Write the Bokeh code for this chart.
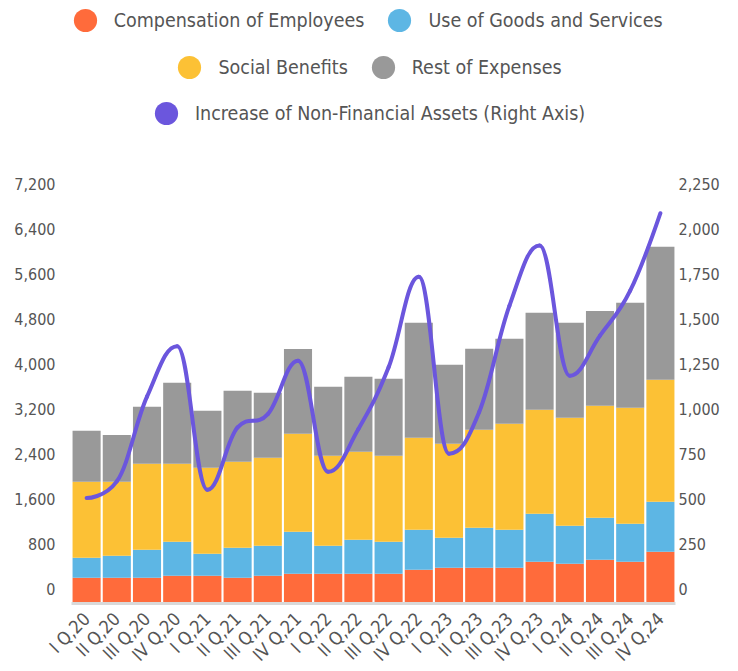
from math import pi
from bokeh.plotting import figure
from bokeh.models import (ColumnDataSource, Range1d, LinearAxis, FixedTicker,
                          NumeralTickFormatter, Legend, LegendItem)
from bokeh.embed import file_html
from bokeh.resources import INLINE

quarters = ["I Q,20", "II Q,20", "III Q,20", "IV Q,20",
            "I Q,21", "II Q,21", "III Q,21", "IV Q,21",
            "I Q,22", "II Q,22", "III Q,22", "IV Q,22",
            "I Q,23", "II Q,23", "III Q,23", "IV Q,23",
            "I Q,24", "II Q,24", "III Q,24", "IV Q,24"]
compensation = [457, 457, 457, 493, 493, 457, 493, 528, 528, 528,
                528, 600, 635, 635, 635, 742, 706, 777, 742, 920]
goods_services = [356, 391, 498, 605, 391, 534, 534, 747, 498, 605,
                  569, 712, 534, 712, 676, 854, 676, 747, 676, 890]
social_benefits = [1352, 1316, 1530, 1388, 1530, 1530, 1566, 1743, 1601, 1566,
                   1530, 1637, 1672, 1743, 1886, 1850, 1921, 1992, 2064, 2170]
rest_expenses = [907, 836, 1014, 1441, 1014, 1263, 1156, 1512, 1228, 1334,
                 1370, 2046, 1405, 1441, 1512, 1726, 1690, 1690, 1868, 2366]
non_financial = [586, 679, 1150, 1430, 632, 979, 1053, 1350, 732, 970,
                 1313, 1817, 833, 1065, 1655, 1990, 1266, 1489, 1739, 2170]
left_ticks = [0, 800, 1600, 2400, 3200, 4000, 4800, 5600, 6400, 7200]
right_ticks = [0, 250, 500, 750, 1000, 1250, 1500, 1750, 2000, 2250]

series_names = ["Compensation of Employees", "Use of Goods and Services",
                "Social Benefits", "Rest of Expenses"]
line_name = "Increase of Non-Financial Assets (Right Axis)"
colors = ["#ff6b3b", "#5db6e4", "#fcc135", "#999999"]
line_color = "#6b56dd"
FONT = "'Liberation Sans Narrow', 'DejaVu Sans Condensed', 'Roboto', sans-serif"
TXT = "#555555"

UNITS_PER_PX = 7200 / 404.7
FRAME_H = 603
LEFT_MAX = FRAME_H * UNITS_PER_PX
RATIO = 2250 / 7200
RIGHT_MAX = LEFT_MAX * RATIO
off_left = 14.5 * UNITS_PER_PX
off_right = off_left * RATIO

source = ColumnDataSource(dict(q=quarters, comp=compensation, goods=goods_services,
                               social=social_benefits, rest=rest_expenses))

p = figure(x_range=quarters, y_range=Range1d(0, LEFT_MAX),
           frame_width=604, frame_height=FRAME_H,
           min_border_left=71, min_border_right=55, min_border_top=0, min_border_bottom=62,
           y_axis_location=None, toolbar_location=None, output_backend="svg")
p.extra_y_ranges = {
    "right": Range1d(0, RIGHT_MAX),
    "lblL": Range1d(-off_left, LEFT_MAX - off_left),
    "lblR": Range1d(-off_right, RIGHT_MAX - off_right),
}
p.outline_line_color = None
p.grid.grid_line_color = None
p.background_fill_color = "white"
p.border_fill_color = "white"

p.vbar_stack(["comp", "goods", "social", "rest"], x="q", width=0.93,
             fill_color=colors, line_color=None, source=source)

# smooth spline (Highcharts-like) through the series points
n = len(non_financial)
xs = [i + 0.5 for i in range(n)]
ys = non_financial
sm = 1.5
den = sm + 1
lc = [None] * n
rc = [None] * n
for i in range(n):
    x, y = xs[i], ys[i]
    if 0 < i < n - 1:
        lx, ly = xs[i - 1], ys[i - 1]
        nx, ny = xs[i + 1], ys[i + 1]
        lcx = (sm * x + lx) / den
        lcy = (sm * y + ly) / den
        rcx = (sm * x + nx) / den
        rcy = (sm * y + ny) / den
        corr = ((rcy - lcy) * (rcx - x)) / (rcx - lcx) + y - rcy
        lcy += corr
        rcy += corr
        if lcy > ly and lcy > y:
            lcy = max(ly, y); rcy = 2 * y - lcy
        elif lcy < ly and lcy < y:
            lcy = min(ly, y); rcy = 2 * y - lcy
        if rcy > ny and rcy > y:
            rcy = max(ny, y); lcy = 2 * y - rcy
        elif rcy < ny and rcy < y:
            rcy = min(ny, y); lcy = 2 * y - rcy
        lc[i] = (lcx, lcy)
        rc[i] = (rcx, rcy)
    else:
        lc[i] = (x, y)
        rc[i] = (x, y)

bez = ColumnDataSource(dict(
    x0=xs[:-1], y0=ys[:-1], x1=xs[1:], y1=ys[1:],
    cx0=[rc[i][0] for i in range(n - 1)], cy0=[rc[i][1] for i in range(n - 1)],
    cx1=[lc[i][0] for i in range(1, n)], cy1=[lc[i][1] for i in range(1, n)],
))
p.bezier(x0="x0", y0="y0", x1="x1", y1="y1", cx0="cx0", cy0="cy0", cx1="cx1", cy1="cy1",
         source=bez, y_range_name="right", line_color=line_color, line_width=4,
         line_cap="round")

# axes
xa = p.xaxis[0]
xa.major_label_orientation = pi / 4
xa.major_label_text_font = FONT
xa.major_label_text_font_size = "18px"
xa.major_label_text_color = TXT
xa.axis_line_color = "#d9d9d9"
xa.axis_line_width = 3
xa.major_tick_line_color = None
xa.minor_tick_line_color = None
xa.major_label_standoff = 6

axL = LinearAxis(y_range_name="lblL", ticker=FixedTicker(ticks=left_ticks),
                 formatter=NumeralTickFormatter(format="0,0"))
axR = LinearAxis(y_range_name="lblR", ticker=FixedTicker(ticks=right_ticks),
                 formatter=NumeralTickFormatter(format="0,0"))
for ax, so in ((axL, 16), (axR, 3)):
    ax.axis_line_color = None
    ax.major_tick_line_color = None
    ax.minor_tick_line_color = None
    ax.major_tick_out = 0
    ax.major_tick_in = 0
    ax.major_label_standoff = so
    ax.major_label_text_font = FONT
    ax.major_label_text_font_size = "16px"
    ax.major_label_text_color = TXT
p.add_layout(axL, "left")
p.add_layout(axR, "right")

# legend swatches (round dots); single hidden point each, outside the visible range
dummies = []
for c in colors + [line_color]:
    dummies.append(p.scatter(x=[quarters[0]], y=[-LEFT_MAX], marker="circle", size=23,
                             fill_color=c, line_color=None))

G = 58
labels = series_names + [line_name]
rows = [([0, 1], (-15.3, 553.7)), ([2, 3], (89.4, 506.7)), ([4], (65.9, 460.7))]
for idx, loc in rows:
    leg = Legend(items=[LegendItem(label=labels[i], renderers=[dummies[i]]) for i in idx],
                 location=loc, orientation="horizontal",
                 glyph_width=G, glyph_height=G, label_height=28,
                 label_standoff=0, spacing=6, padding=0, margin=0,
                 border_line_color=None, background_fill_alpha=0,
                 label_text_font=FONT, label_text_font_size="19.5px",
                 label_text_color=TXT)
    p.add_layout(leg)

open("out.html", "w").write(file_html(p, INLINE))
